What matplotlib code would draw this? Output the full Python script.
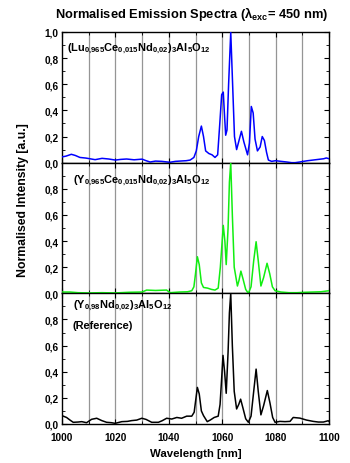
import matplotlib
matplotlib.use("Agg")
import matplotlib.pyplot as plt
from matplotlib.ticker import MultipleLocator, FuncFormatter

plt.rcParams['font.family'] = ['Liberation Sans', 'DejaVu Sans']
plt.rcParams['font.weight'] = 'bold'
plt.rcParams['mathtext.fontset'] = 'custom'
plt.rcParams['mathtext.rm'] = 'Liberation Sans:bold'
plt.rcParams['mathtext.bf'] = 'Liberation Sans:bold'
plt.rcParams['mathtext.it'] = 'Liberation Sans:bold'
plt.rcParams['mathtext.default'] = 'rm'

# ---- data ----
wl_lu = [1000, 1001.5, 1003.5, 1005, 1006.7, 1009, 1012.4, 1015, 1017.5, 1020, 1022, 1024.2,
         1027, 1030, 1031.5, 1033, 1035, 1037.3, 1040.4, 1042.5, 1044.8, 1046.5, 1048, 1049.4,
         1050.3, 1051.2, 1052.2, 1053, 1053.8, 1055, 1056.2, 1057.3, 1058.3, 1059.1, 1059.8,
         1060.4, 1060.9, 1061.3, 1061.8, 1062.4, 1063.2, 1063.9, 1064.6, 1065.4, 1066.3, 1067.2,
         1068.1, 1069.5, 1070.2, 1070.9, 1071.6, 1072.3, 1073.2, 1074.2, 1075.0, 1075.8, 1076.6,
         1077.3, 1078.5, 1080, 1082, 1084.2, 1086, 1087.3, 1089, 1090.4, 1092, 1094, 1096, 1098,
         1099, 1100]
int_lu = [0.044, 0.05, 0.064, 0.055, 0.04, 0.035, 0.023, 0.033, 0.028, 0.02, 0.025, 0.028,
          0.022, 0.027, 0.015, 0.005, 0.012, 0.01, 0.003, 0.01, 0.013, 0.015, 0.02, 0.04,
          0.09, 0.2, 0.28, 0.2, 0.09, 0.07, 0.06, 0.04, 0.06, 0.3, 0.52,
          0.54, 0.35, 0.21, 0.25, 0.6, 1.0, 0.6, 0.2, 0.1, 0.17, 0.24,
          0.16, 0.06, 0.15, 0.43, 0.38, 0.18, 0.09, 0.12, 0.20, 0.17, 0.08,
          0.02, 0.01, 0.015, 0.01, 0.005, 0.0, 0.0, 0.005, 0.01, 0.015, 0.02, 0.025, 0.03,
          0.036, 0.03]

wl_y = [1000, 1003, 1006, 1010, 1015, 1020, 1025, 1030, 1031.7, 1035, 1039.2, 1040.5, 1044,
        1047, 1048.6, 1049.4, 1050.0, 1050.7, 1051.4, 1052.2, 1053, 1054.5, 1056, 1057.3,
        1058.5, 1059.3, 1060.4, 1061.0, 1061.5, 1062.2, 1062.7, 1063.2, 1063.8, 1064.5, 1065.7,
        1066.3, 1067.0, 1067.8, 1068.8, 1069.8, 1070.8, 1071.8, 1072.7, 1073.5, 1074.5, 1075.5,
        1076.8, 1077.8, 1078.8, 1079.8, 1082, 1085, 1088, 1091, 1094, 1097, 1100]
int_y = [0.01, 0.01, 0.005, 0.003, 0.005, 0.003, 0.008, 0.01, 0.025, 0.022, 0.025, 0.005, 0.01,
         0.012, 0.02, 0.05, 0.15, 0.28, 0.22, 0.08, 0.045, 0.04, 0.03, 0.025,
         0.04, 0.2, 0.52, 0.4, 0.22, 0.5, 0.85, 1.0, 0.6, 0.2, 0.056,
         0.1, 0.17, 0.11, 0.03, 0.0, 0.05, 0.25, 0.395, 0.25, 0.056, 0.12,
         0.23, 0.15, 0.05, 0.02, 0.01, 0.005, 0.005, 0.008, 0.01, 0.012, 0.02]

wl_ref = [1000, 1001.7, 1003, 1004.2, 1006, 1007.4, 1009.2, 1011.1, 1013, 1014.9, 1016.7, 1018.5,
          1019.9, 1022.4, 1024.5, 1026.1, 1028, 1029.9, 1031.5, 1033.6, 1036.1, 1037.5, 1039.2,
          1041.1, 1043, 1044.8, 1046.7, 1048.6, 1049.5, 1050.0, 1050.7, 1051.4, 1052.2, 1053,
          1054.4, 1055.5, 1057, 1058.5, 1059.2, 1059.8, 1060.3, 1060.9, 1061.5, 1062.2, 1062.7,
          1063.2, 1063.8, 1064.5, 1065.4, 1066.2, 1066.9, 1067.8, 1068.8, 1069.8, 1070.8, 1071.8,
          1072.7, 1073.5, 1074.5, 1075.5, 1076.9, 1077.9, 1078.9, 1079.8, 1081.6, 1083.5, 1085.4,
          1086.6, 1089.1, 1091.6, 1094.1, 1096, 1097.9, 1099.7, 1100]
int_ref = [0.064, 0.05, 0.03, 0.013, 0.015, 0.018, 0.01, 0.036, 0.044, 0.026, 0.013, 0.01,
           0.005, 0.018, 0.02, 0.026, 0.03, 0.044, 0.035, 0.013, 0.013, 0.025, 0.044,
           0.038, 0.05, 0.044, 0.06, 0.06, 0.09, 0.17, 0.28, 0.23, 0.1, 0.064,
           0.018, 0.03, 0.05, 0.06, 0.15, 0.35, 0.525, 0.4, 0.235, 0.55, 0.85,
           1.0, 0.6, 0.25, 0.115, 0.15, 0.19, 0.12, 0.04, 0.013, 0.06, 0.25,
           0.42, 0.25, 0.07, 0.14, 0.256, 0.16, 0.05, 0.013, 0.02, 0.018, 0.02,
           0.05, 0.045, 0.03, 0.02, 0.015, 0.015, 0.025, 0.02]

labels = [r"(Lu$_{0{,}965}$Ce$_{0{,}015}$Nd$_{0{,}02}$)$_3$Al$_5$O$_{12}$",
          r"(Y$_{0{,}965}$Ce$_{0{,}015}$Nd$_{0{,}02}$)$_3$Al$_5$O$_{12}$",
          r"(Y$_{0{,}98}$Nd$_{0{,}02}$)$_3$Al$_5$O$_{12}$"]
label_pos = [(0.02, 0.88), (0.04, 0.87), (0.04, 0.91)]
colors = ['#0000ff', '#11ee11', '#000000']
series = [(wl_lu, int_lu), (wl_y, int_y), (wl_ref, int_ref)]

fig = plt.figure(figsize=(3.5, 4.64), dpi=100)
left, right, bottom, top = 62/350, 329/350, 1-425/464, 1-33/464
h = (top - bottom) / 3
axes = []
for i in range(3):
    ax = fig.add_axes([left, top - (i+1)*h, right-left, h])
    axes.append(ax)

fmt = FuncFormatter(lambda v, p: f"{v:.1f}".replace('.', ','))
for i, ax in enumerate(axes):
    x, y = series[i]
    for g in range(1010, 1100, 10):
        ax.axvline(g, color='#959595', lw=0.9, zorder=0)
    ax.plot(x, y, color=colors[i], lw=1.1, zorder=3)
    ax.set_xlim(1000, 1100)
    ax.set_ylim(0, 1.0)
    ax.xaxis.set_major_locator(MultipleLocator(20))
    ax.xaxis.set_minor_locator(MultipleLocator(10))
    ax.yaxis.set_major_locator(MultipleLocator(0.2))
    ax.yaxis.set_minor_locator(MultipleLocator(0.1))
    ax.yaxis.set_major_formatter(fmt)
    ax.tick_params(which='both', direction='in', top=True, right=True, labelsize=7.2)
    ax.tick_params(axis='y', pad=2.5)
    ax.tick_params(axis='x', pad=6)
    ax.tick_params(which='major', length=3.5, width=0.8)
    ax.tick_params(which='minor', length=2, width=0.6)
    for sp in ax.spines.values():
        sp.set_linewidth(1.0)
    if i < 2:
        ax.tick_params(labelbottom=False)
    if i > 0:
        ax.set_yticks([0, 0.2, 0.4, 0.6, 0.8])
    for lab in ax.get_xticklabels() + ax.get_yticklabels():
        lab.set_fontweight('bold')
    lx, ly = label_pos[i]
    ax.text(lx, ly, labels[i], transform=ax.transAxes, fontsize=7.9, fontweight='bold',
            va='center', ha='left')
axes[2].text(0.04, 0.755, '(Reference)', transform=axes[2].transAxes, fontsize=7.9,
             fontweight='bold', va='center', ha='left')

axes[2].set_xlabel('Wavelength [nm]', fontsize=8.2, fontweight='bold', labelpad=4)
fig.text(0.066, 1-200/464, 'Normalised Intensity [a.u.]', rotation=90, fontsize=8.8,
         fontweight='bold', ha='center', va='center')
fig.text(192/350, 1-14/464, 'Normalised Emission Spectra (λ$_{exc}$= 450 nm)',
         fontsize=9.3, fontweight='bold', ha='center', va='center')

fig.savefig('out.png', dpi=100)
